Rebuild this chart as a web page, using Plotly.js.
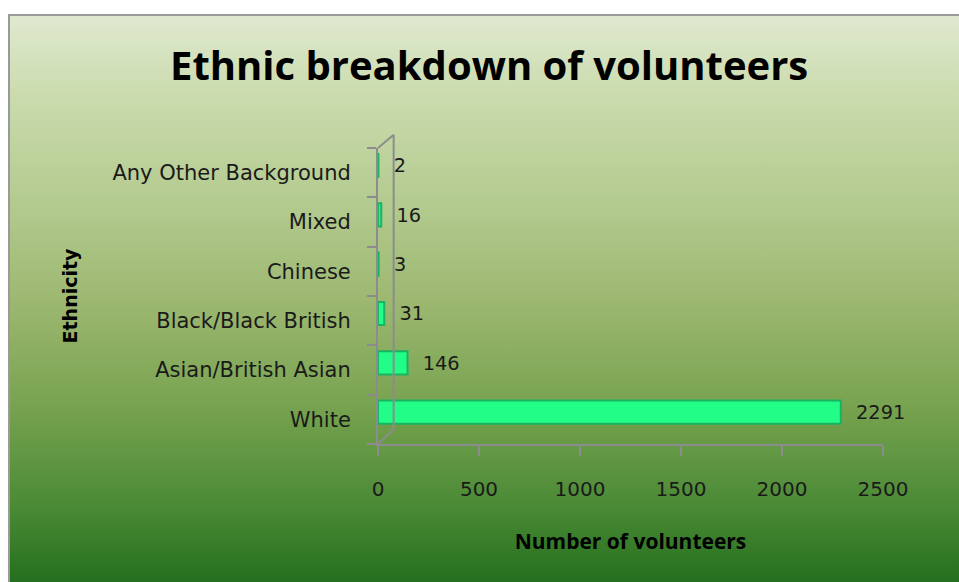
<!DOCTYPE html>
<html>
<head>
<meta charset="utf-8">
<script src="https://cdn.plot.ly/plotly-3.0.1.min.js"></script>
<style>
  html, body { margin: 0; padding: 0; background: #ffffff; width: 959px; height: 582px; overflow: hidden; }
  #frame {
    position: absolute; left: 8px; top: 14px; width: 960px; height: 580px;
    border-left: 2px solid #9a9a9a; border-top: 2px solid #9a9a9a;
    background: linear-gradient(to bottom, #dfe9cf 0%, #c9daab 15%, #b2ca8e 33%, #9bb76f 50%, #78a350 67%, #4c8b36 84%, #1d6b1a 100%);
  }
  #chart { position: absolute; left: 0; top: 0; width: 959px; height: 582px; }
</style>
</head>
<body>
<div id="frame"></div>
<div id="chart"></div>
<script>
const categories = ["White", "Asian/British Asian", "Black/Black British", "Chinese", "Mixed", "Any Other Background"];
const volunteers = [2291, 146, 31, 3, 16, 2];
const xTicks = [0, 500, 1000, 1500, 2000, 2500];

const labelFont = { family: "DejaVu Sans", size: 20, color: "#1a1a1a" };
const catFont = { family: "DejaVu Sans", size: 21, color: "#1a1a1a" };

const trace = {
  type: "bar",
  orientation: "h",
  y: categories,
  x: volunteers,
  text: volunteers.map(v => "  " + v),
  textposition: "outside",
  textfont: labelFont,
  cliponaxis: false,
  width: 0.47,
  offset: -0.09,
  marker: { color: "#22fd88", line: { color: "#18b462", width: 2 } },
  hoverinfo: "x+y"
};

const layout = {
  width: 959, height: 582,
  paper_bgcolor: "rgba(0,0,0,0)",
  plot_bgcolor: "rgba(0,0,0,0)",
  margin: { l: 378, r: 76, t: 148, b: 138 },
  showlegend: false,
  title: {
    text: "<b>Ethnic breakdown of volunteers</b>",
    font: { family: "Open Sans", size: 40, color: "#000000" },
    x: 0.51, xanchor: "center", y: 0.886, yanchor: "middle"
  },
  xaxis: {
    range: [0, 2500],
    tickvals: xTicks,
    ticktext: xTicks.map(String),
    showgrid: false, zeroline: false,
    showline: true, linecolor: "#8c8c8c", linewidth: 2,
    ticks: "outside", ticklen: 10, tickcolor: "#8c8c8c", tickwidth: 2,
    ticklabelstandoff: 16,
    tickfont: labelFont,
    title: { text: "<b>Number of volunteers</b>", font: { family: "Open Sans", size: 21, color: "#000000" }, standoff: 34 },
    fixedrange: true
  },
  yaxis: {
    type: "category",
    showgrid: false, zeroline: false,
    showline: true, linecolor: "#8c8c8c", linewidth: 2,
    ticks: "outside", ticklen: 9, tickcolor: "#8c8c8c", tickwidth: 2,
    tickson: "boundaries",
    ticklabelstandoff: 21,
    tickfont: catFont,
    title: { text: "<b>Ethnicity</b>", font: { family: "DejaVu Sans", size: 19, color: "#000000" }, standoff: 30 },
    fixedrange: true
  },
  shapes: [
    { type: "line", xref: "paper", yref: "paper", x0: 0.031, x1: 0.031, y0: 0.05, y1: 1.045, line: { color: "#8c8c8c", width: 2 } },
    { type: "line", xref: "paper", yref: "paper", x0: 0, x1: 0.031, y0: 1.0, y1: 1.045, line: { color: "#8c8c8c", width: 2 } },
    { type: "line", xref: "paper", yref: "paper", x0: 0, x1: 0.031, y0: 0.0, y1: 0.05, line: { color: "#8c8c8c", width: 2 } }
  ]
};

Plotly.newPlot("chart", [trace], layout, { displayModeBar: false, staticPlot: true });
</script>
</body>
</html>
